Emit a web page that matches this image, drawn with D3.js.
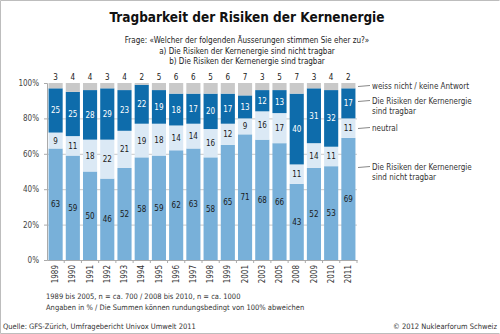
<!DOCTYPE html>
<html>
<head>
<meta charset="utf-8">
<script src="https://cdn.jsdelivr.net/npm/d3@7"></script>
<style>
  body { margin: 0; background: #fff; }
  text { font-family: "DejaVu Sans Condensed", Roboto, sans-serif; }
</style>
</head>
<body>
<svg id="chart" width="500" height="334"></svg>
<script>
// survey years and answer shares (%)
const years = ["1989", "1990", "1991", "1992", "1993", "1994", "1995", "1996", "1997",
  "1998", "1999", "2001", "2003", "2005", "2008", "2009", "2010", "2011"];
const nichtTragbar = [63, 59, 50, 46, 52, 58, 59, 62, 63, 58, 65, 71, 68, 66, 43, 52, 53, 69];
const neutral = [9, 11, 18, 22, 21, 19, 18, 14, 14, 16, 12, 9, 16, 17, 11, 14, 11, 11];
const tragbar = [25, 25, 28, 29, 23, 22, 19, 18, 17, 20, 17, 13, 12, 13, 40, 31, 32, 17];
const weissNicht = [3, 4, 4, 3, 4, 2, 5, 6, 6, 5, 6, 7, 3, 5, 7, 3, 4, 2];
const yTicks = [0, 20, 40, 60, 80, 100];

const svg = d3.select("#chart");

// outer frame
svg.append("path")
  .attr("d", "M499.5,0.5 H0.5 V333.5 H499.5")
  .attr("fill", "none")
  .attr("stroke", "#bdbdbd");

const x = d3.scaleBand().domain(years).range([47, 357]).paddingInner(0.18).paddingOuter(0.09);
const y = d3.scaleLinear().domain([0, 100]).range([260, 83]);

// title + question
svg.append("text").attr("x", 247).attr("y", 22).attr("text-anchor", "middle")
  .attr("font-size", 13.5).attr("font-weight", "bold").attr("fill", "#111")
  .text("Tragbarkeit der Risiken der Kernenergie");
const question = [
  "Frage: «Welcher der folgenden Äusserungen stimmen Sie eher zu?»",
  "a) Die Risiken der Kernenergie sind nicht tragbar",
  "b) Die Risiken der Kernenergie sind tragbar"
];
svg.append("g").selectAll("text").data(question).join("text")
  .attr("x", 247).attr("y", (d, i) => 43 + i * 10.5)
  .attr("text-anchor", "middle").attr("font-size", 8).attr("fill", "#222")
  .text((d) => d);

// gridlines
svg.append("g").selectAll("line").data(yTicks.filter((d) => d > 0 && d < 100)).join("line")
  .attr("x1", 47).attr("x2", 357)
  .attr("y1", (d) => y(d) + 0.5).attr("y2", (d) => y(d) + 0.5)
  .attr("stroke", "#c8c8c8");

// y axis
const yAxis = svg.append("g").attr("transform", "translate(47,0)")
  .call(d3.axisLeft(y).tickValues(yTicks).tickFormat((d) => d + "%").tickSize(3).tickPadding(5));
yAxis.select(".domain").attr("stroke", "#aaa");
yAxis.selectAll(".tick line").attr("stroke", "#aaa");
yAxis.selectAll("text").attr("font-size", 8).attr("fill", "#444")
  .style("font-family", '"DejaVu Sans Condensed", Roboto, sans-serif');

// stacked bars
const rows = years.map((yr, i) => ({
  year: yr,
  segs: [
    { key: "nicht", y0: 0, y1: nichtTragbar[i], v: nichtTragbar[i] },
    { key: "neutral", y0: nichtTragbar[i], y1: nichtTragbar[i] + neutral[i], v: neutral[i] },
    { key: "tragbar", y0: nichtTragbar[i] + neutral[i], y1: nichtTragbar[i] + neutral[i] + tragbar[i], v: tragbar[i] },
    { key: "weiss", y0: nichtTragbar[i] + neutral[i] + tragbar[i], y1: 100, v: weissNicht[i] }
  ]
}));
const colors = { nicht: "#78b0d9", neutral: "#dbe9f5", tragbar: "#0e6cab", weiss: "#c9c9c9" };

const bars = svg.append("g").selectAll("g").data(rows).join("g")
  .attr("transform", (d) => `translate(${x(d.year)},0)`);
bars.selectAll("rect").data((d) => d.segs).join("rect")
  .attr("x", 0).attr("width", x.bandwidth())
  .attr("y", (d) => y(Math.min(d.y1, 100)))
  .attr("height", (d) => Math.max(0, y(d.y0) - y(Math.min(d.y1, 100))))
  .attr("fill", (d) => colors[d.key]);
bars.selectAll("text.v").data((d) => d.segs.filter((s) => s.key !== "weiss")).join("text")
  .attr("class", "v")
  .attr("x", x.bandwidth() / 2)
  .attr("y", (d) => y((d.y0 + d.y1) / 2) + 3)
  .attr("text-anchor", "middle").attr("font-size", 8)
  .attr("fill", (d) => d.key === "tragbar" ? "#fff" : "#1a1a1a")
  .text((d) => d.v);
// weiss nicht values above bars
bars.append("text")
  .attr("x", x.bandwidth() / 2).attr("y", 80)
  .attr("text-anchor", "middle").attr("font-size", 8).attr("fill", "#1a1a1a")
  .text((d, i) => weissNicht[i]);

// x axis
const xAxis = svg.append("g").attr("transform", "translate(0,260)")
  .call(d3.axisBottom(x).tickSize(0).tickPadding(0));
xAxis.select(".domain").attr("stroke", "#aaa");
xAxis.selectAll("text")
  .attr("transform", "rotate(-90)")
  .attr("x", -5).attr("y", 0).attr("dy", "0.32em")
  .attr("text-anchor", "end").attr("font-size", 8).attr("fill", "#333")
  .style("font-family", '"DejaVu Sans Condensed", Roboto, sans-serif');
// small ticks between bars
svg.append("g").selectAll("line").data(years.slice(1).concat(["end"])).join("line")
  .attr("x1", (d, i) => i < years.length - 1 ? x(d) - x.step() * x.paddingInner() / 2 : 357)
  .attr("x2", (d, i) => i < years.length - 1 ? x(d) - x.step() * x.paddingInner() / 2 : 357)
  .attr("y1", 260).attr("y2", 263).attr("stroke", "#aaa");

// legend with leader lines
const legend = [
  { lines: ["weiss nicht / keine Antwort"], y: 86 },
  { lines: ["Die Risiken der Kernenergie", "sind tragbar"], y: 101 },
  { lines: ["neutral"], y: 128 },
  { lines: ["Die Risiken der Kernenergie", "sind nicht tragbar"], y: 167 }
];
const lg = svg.append("g").selectAll("g").data(legend).join("g");
lg.append("line")
  .attr("x1", 358).attr("x2", 370)
  .attr("y1", (d) => d.y + 0.5).attr("y2", (d) => d.y - 0.5)
  .attr("stroke", "#888");
lg.append("text")
  .attr("x", 372).attr("y", (d) => d.y + 3)
  .attr("font-size", 8).attr("fill", "#333")
  .selectAll("tspan").data((d) => d.lines).join("tspan")
  .attr("x", 372).attr("dy", (d, i) => i === 0 ? 0 : 9.5)
  .text((d) => d);

// notes
const notes = [
  "1989 bis 2005, n = ca. 700 / 2008 bis 2010, n = ca. 1000",
  "Angaben in % / Die Summen können rundungsbedingt von 100% abweichen"
];
svg.append("g").selectAll("text").data(notes).join("text")
  .attr("x", 46).attr("y", (d, i) => 299 + i * 11)
  .attr("font-size", 7.5).attr("fill", "#333")
  .text((d) => d);
svg.append("text").attr("x", 3).attr("y", 329)
  .attr("font-size", 7.5).attr("fill", "#333")
  .text("Quelle: GFS-Zürich, Umfragebericht Univox Umwelt 2011");
svg.append("text").attr("x", 497).attr("y", 329).attr("text-anchor", "end")
  .attr("font-size", 7.5).attr("fill", "#333")
  .text("© 2012 Nuklearforum Schweiz");
</script>
</body>
</html>
